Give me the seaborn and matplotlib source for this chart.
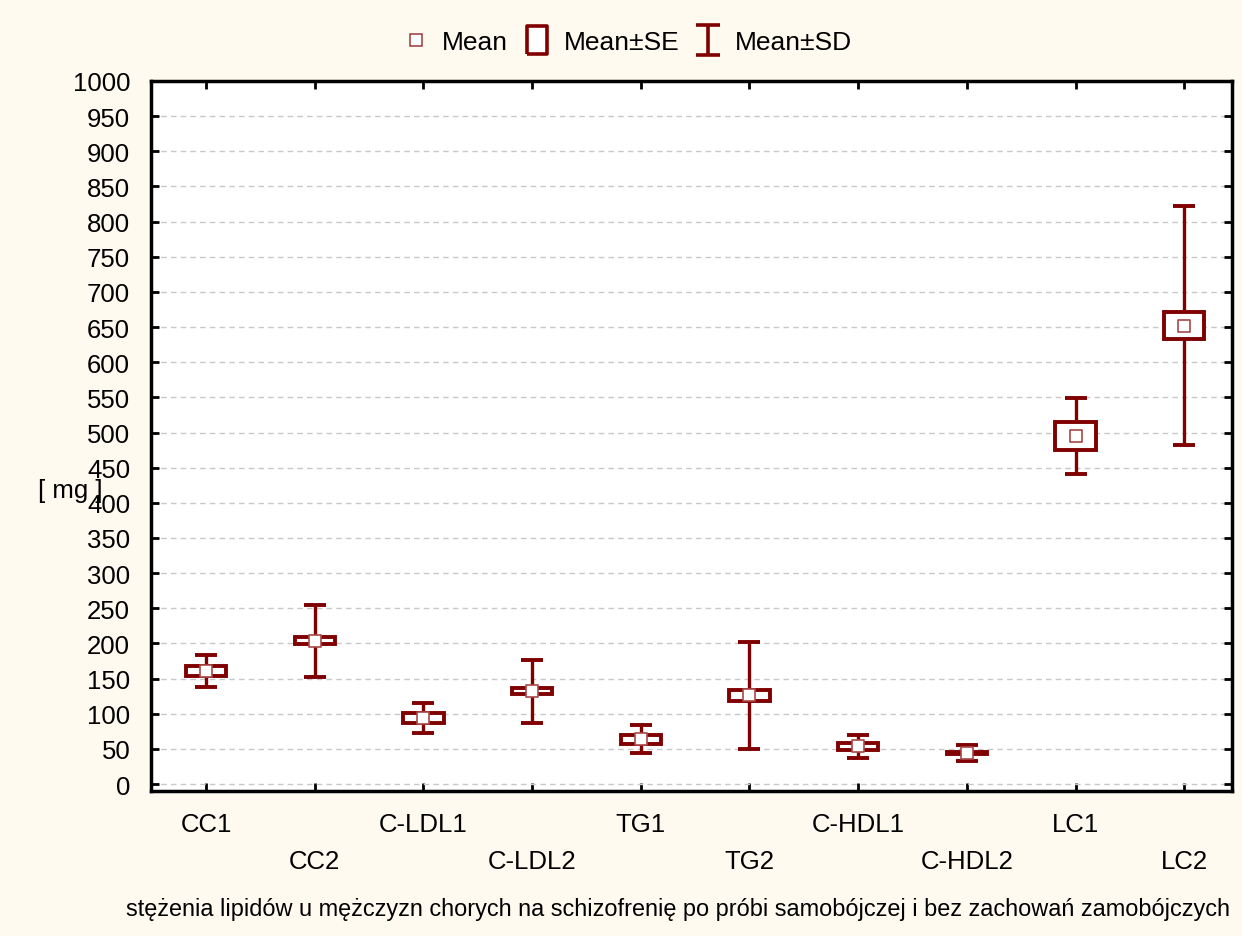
import matplotlib.pyplot as plt
import numpy as np
import seaborn as sns
from matplotlib.lines import Line2D
from matplotlib.path import Path

sns.set_style('ticks')
plt.rcParams['font.family'] = ['Liberation Sans', 'DejaVu Sans']
plt.rcParams['text.color'] = 'black'

RED = '#800000'
MEAN_EDGE = '#a84848'
BG = '#fffaf0'

categories = ['CC1', 'CC2', 'C-LDL1', 'C-LDL2', 'TG1', 'TG2', 'C-HDL1', 'C-HDL2', 'LC1', 'LC2']
means = [160.5, 203.5, 93.5, 132.0, 63.5, 126.0, 53.5, 44.5, 495.5, 652.0]
se = [7.5, 5.0, 7.0, 4.5, 6.5, 8.0, 5.0, 1.2, 20.0, 19.0]
sd = [22.5, 51.5, 21.5, 45.0, 20.0, 75.5, 16.5, 11.6, 54.0, 169.5]
y_ticks = list(range(0, 1001, 50))
x_label = 'stężenia lipidów u mężczyzn chorych na schizofrenię po próbi samobójczej i bez zachowań zamobójczych'
y_label = '[ mg ]'

x = np.arange(len(categories))
means_a = np.array(means)
se_a = np.array(se)

fig = plt.figure(figsize=(12.42, 9.37), dpi=100, facecolor=BG)
ax = fig.add_axes([0.1216, 0.1547, 0.992 - 0.1216, 0.9125 - 0.1547])
ax.set_facecolor('white')

# SD whiskers
ax.errorbar(x, means_a, yerr=sd, fmt='none', ecolor=RED, elinewidth=2.4,
            capsize=8, capthick=2.8, zorder=2)
# SE boxes
ax.bar(x, 2 * se_a, bottom=means_a - se_a, width=0.37, facecolor='white',
       edgecolor=RED, linewidth=2.8, zorder=3)
# means
sns.scatterplot(x=x, y=means_a, marker='s', s=75, facecolor='white',
                edgecolor=MEAN_EDGE, linewidth=1.2, zorder=4, ax=ax)

ax.set_xlim(-0.506, 9.44)
ax.set_ylim(-10, 1000)
ax.set_yticks(y_ticks)
ax.set_xticks(x)
ax.set_xticklabels([c if i % 2 == 0 else '\n' + c for i, c in enumerate(categories)],
                   linespacing=1.7)
ax.set_xlabel('')
ax.set_ylabel('')
ax.yaxis.grid(True, linestyle=(0, (4, 3)), color='#c8c8c8', linewidth=1)
ax.xaxis.grid(False)
ax.set_axisbelow(True)

ax.tick_params(direction='in', top=True, right=True, length=6, width=2,
               labelsize=18.5, colors='black', labelcolor='black')
ax.tick_params(axis='x', pad=15)
ax.tick_params(axis='y', pad=15)
for spine in ax.spines.values():
    spine.set_visible(True)
    spine.set_linewidth(2.5)
    spine.set_color('black')

fig.text(38 / 1242, 1 - 491 / 937, y_label, fontsize=18.5, ha='left', va='center')
fig.text(1230 / 1242, 1 - 910 / 937, x_label, fontsize=16.9, ha='right', va='center')

# legend
se_marker = Path([(-0.7, -1), (0.7, -1), (0.7, 1), (-0.7, 1), (-0.7, -1)])
sd_marker = Path([(-0.8, 1), (0.8, 1), (0, 1), (0, -1), (-0.8, -1), (0.8, -1)],
                 [Path.MOVETO, Path.LINETO, Path.MOVETO, Path.LINETO, Path.MOVETO, Path.LINETO])
handles = [
    Line2D([], [], linestyle='none', marker='s', markersize=8.5, markerfacecolor='white',
           markeredgecolor=MEAN_EDGE, markeredgewidth=1.2),
    Line2D([], [], linestyle='none', marker=se_marker, markersize=20, markerfacecolor='white',
           markeredgecolor=RED, markeredgewidth=2.6),
    Line2D([], [], linestyle='none', marker=sd_marker, markersize=21, markerfacecolor='none',
           markeredgecolor=RED, markeredgewidth=2.6),
]
fig.legend(handles, ['Mean', 'Mean±SE', 'Mean±SD'], loc='center', bbox_to_anchor=(0.505, 0.954),
           ncol=3, frameon=False, fontsize=19, handlelength=1.0, handletextpad=0.5,
           columnspacing=0.6)

fig.savefig('out.png', dpi=100, facecolor=BG)
plt.close(fig)
